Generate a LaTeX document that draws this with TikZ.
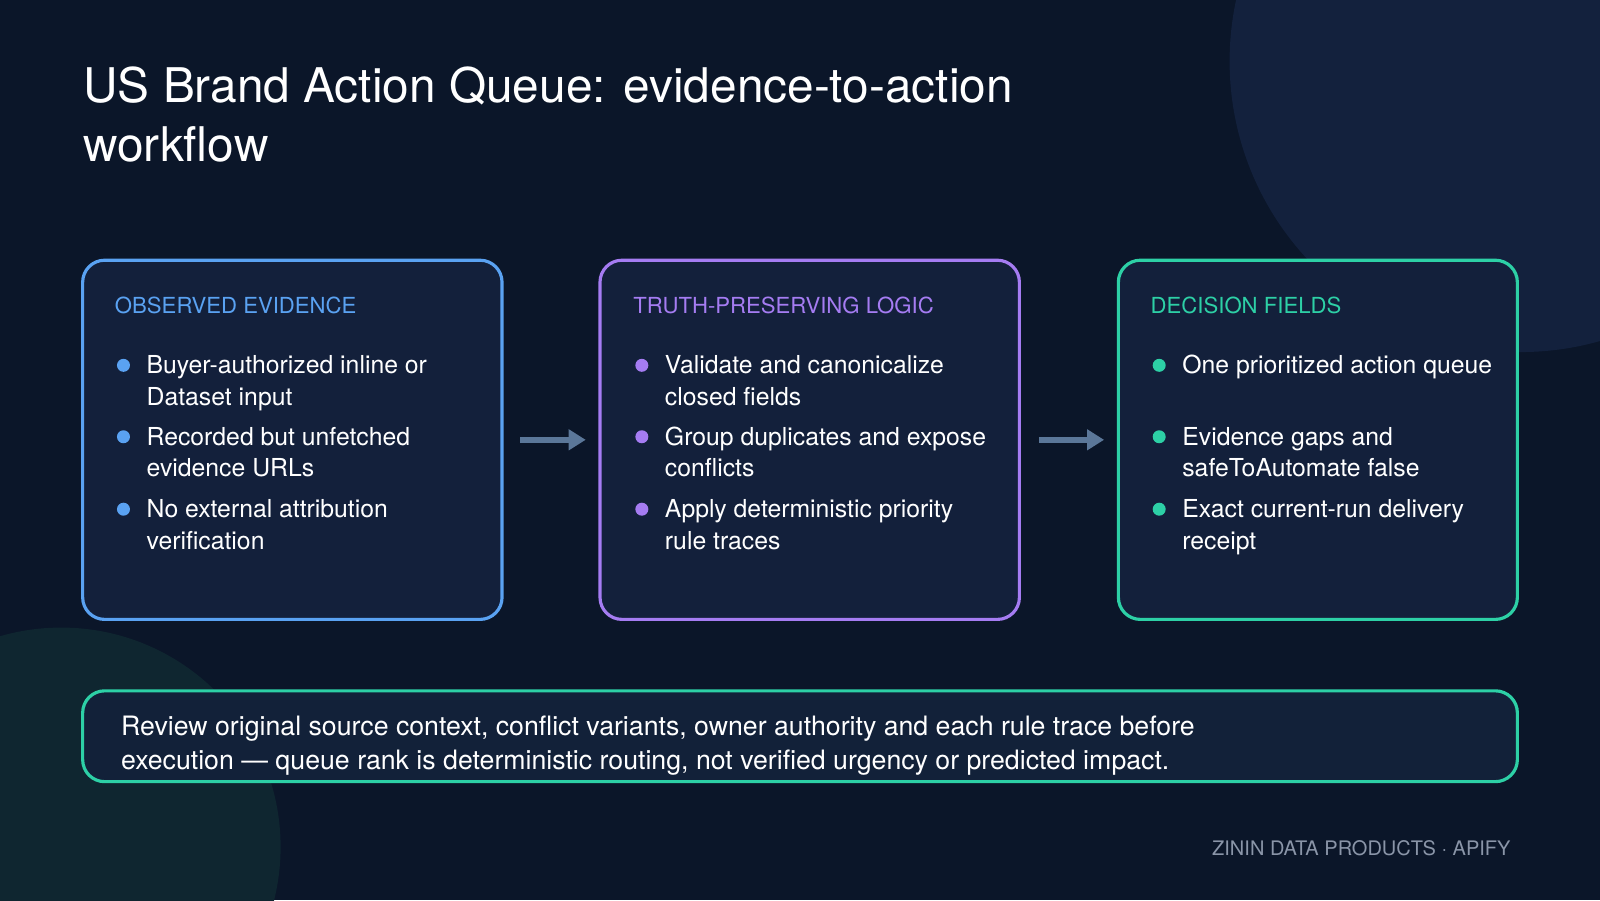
\documentclass[tikz,border=0pt]{standalone}
\usepackage{fontspec}
\setmainfont{TeX Gyre Heros}
\usetikzlibrary{arrows.meta}
\definecolor{bgnavy}{HTML}{0B1629}
\definecolor{blobtop}{HTML}{13213D}
\definecolor{blobbot}{HTML}{0F2630}
\definecolor{cardfill}{HTML}{13203B}
\definecolor{evblue}{HTML}{5AA2F2}
\definecolor{lgpurple}{HTML}{A57CF2}
\definecolor{dcteal}{HTML}{2DD0A6}
\definecolor{arrowgray}{HTML}{5B7799}
\definecolor{footgray}{HTML}{8A95A8}
\tikzset{
  card/.style={draw=#1, line width=0.9pt, fill=cardfill, rounded corners=0.22cm},
  head/.style={anchor=base west, inner sep=0, text=#1, font=\fontsize{6.3pt}{8pt}\selectfont},
  item/.style={anchor=north west, inner sep=0, text=white, align=left,
    font=\fontsize{7.05pt}{9pt}\selectfont},
  dot/.style={circle, fill=#1, inner sep=0, minimum size=0.13cm},
  flow/.style={draw=arrowgray, line width=1.6pt, -{Triangle[length=0.17cm,width=0.2cm]}}
}
\begin{document}
\begin{tikzpicture}[x=0.010204cm, y=-0.010204cm]
    % background and soft blobs
    \fill[bgnavy] (0,0) rectangle (1568,882);
    \begin{scope}
      \clip (0,0) rectangle (1568,882);
      \fill[blobtop] (1490,60) circle (285);
      \fill[blobbot] (60,830) circle (215);
    \end{scope}

    % title
    \node[anchor=base west, inner sep=0, text=white, align=left,
      font=\fontsize{13.6pt}{16.8pt}\selectfont] (title) at (81,158)
      {US Brand Action Queue: evidence-to-action\\workflow};

    % cards
    \draw[card=evblue] (81,255) rectangle (492,607);
    \draw[card=lgpurple] (588,255) rectangle (999,607);
    \draw[card=dcteal] (1096,255) rectangle (1487,607);

    \node[head=evblue] (h1) at (112,307) {OBSERVED EVIDENCE};
    \node[head=lgpurple] (h2) at (620,307) {TRUTH-PRESERVING LOGIC};
    \node[head=dcteal] (h3) at (1127,307) {DECISION FIELDS};

    % observed evidence
    \node[dot=evblue] (b11) at (121,358) {};
    \node[item] (t11) at (143,344) {\strut Buyer-authorized inline or\\Dataset input};
    \node[dot=evblue] (b12) at (121,428) {};
    \node[item] (t12) at (143,414) {\strut Recorded but unfetched\\evidence URLs};
    \node[dot=evblue] (b13) at (121,499) {};
    \node[item] (t13) at (143,485) {\strut No external attribution\\verification};

    % logic
    \node[dot=lgpurple] (b21) at (629,358) {};
    \node[item] (t21) at (651,344) {\strut Validate and canonicalize\\closed fields};
    \node[dot=lgpurple] (b22) at (629,428) {};
    \node[item] (t22) at (651,414) {\strut Group duplicates and expose\\conflicts};
    \node[dot=lgpurple] (b23) at (629,499) {};
    \node[item] (t23) at (651,485) {\strut Apply deterministic priority\\rule traces};

    % decision fields
    \node[dot=dcteal] (b31) at (1136,358) {};
    \node[item] (t31) at (1158,344) {\strut One prioritized action queue};
    \node[dot=dcteal] (b32) at (1136,428) {};
    \node[item] (t32) at (1158,414) {\strut Evidence gaps and\\safeToAutomate false};
    \node[dot=dcteal] (b33) at (1136,499) {};
    \node[item] (t33) at (1158,485) {\strut Exact current-run delivery\\receipt};

    % flow arrows
    \coordinate (a1s) at (510,431); \coordinate (a1e) at (574,431);
    \coordinate (a2s) at (1018,431); \coordinate (a2e) at (1082,431);
    \draw[flow] (a1s) -- (a1e);
    \draw[flow] (a2s) -- (a2e);

    % review note
    \draw[card=dcteal, fill=cardfill!80!blobbot] (81,677) rectangle (1487,766);
    \node[anchor=north west, inner sep=0, text=white, align=left,
      font=\fontsize{7.6pt}{9.6pt}\selectfont] (note) at (118,697)
      {\strut Review original source context, conflict variants, owner authority and each rule trace before\\
       execution --- queue rank is deterministic routing, not verified urgency or predicted impact.};

    % footer
    \node[anchor=base east, inner sep=0, text=footgray, font=\fontsize{5.7pt}{7pt}\selectfont]
      (foot) at (1481,838) {ZININ DATA PRODUCTS · APIFY};
\end{tikzpicture}
\end{document}
